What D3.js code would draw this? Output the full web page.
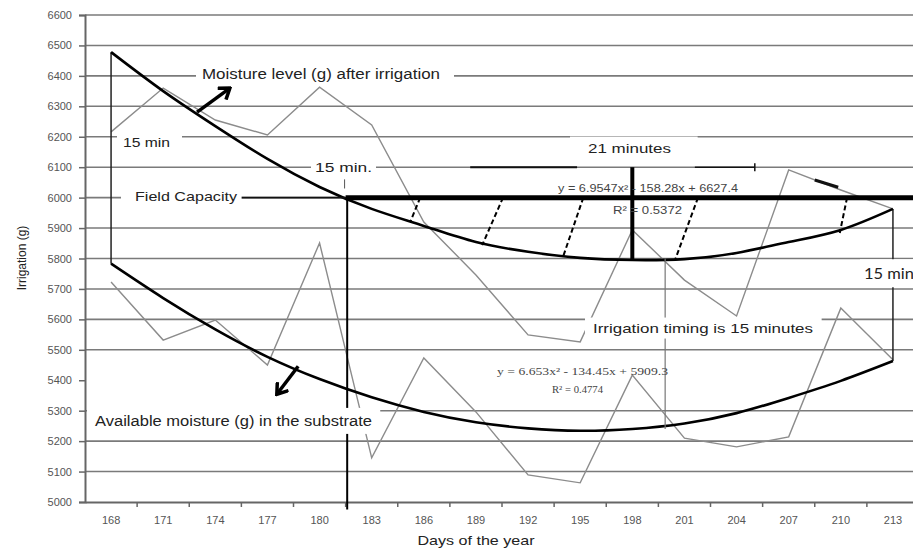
<!DOCTYPE html>
<html><head><meta charset="utf-8">
<script src="https://cdn.jsdelivr.net/npm/d3@7"></script>
<style>body{margin:0;background:#fff;} svg{display:block;font-family:"Liberation Sans",Arial,sans-serif;}</style>
</head><body><svg id="c" width="913" height="550"></svg>
<script>
// ---------- data ----------
const days = ["168","171","174","177","180","183","186","189","192","195","198","201","204","207","210","213"];
const yTicks = [5000,5100,5200,5300,5400,5500,5600,5700,5800,5900,6000,6100,6200,6300,6400,6500,6600];
const moistureAfterIrrigation = [6216,6360,6255,6206,6363,6239,5920,5746,5549,5526,5894,5729,5611,6091,6025,5963];
const availableMoisture      = [5723,5532,5598,5450,5851,5145,5473,5296,5089,5063,5417,5210,5181,5214,5637,5467];
const afterTrend     = [6478,6350,6235,6127,6035,5963,5907,5854,5822,5802,5795,5798,5818,5854,5894,5963];
const availableTrend = [5783,5670,5567,5477,5404,5344,5296,5262,5242,5234,5240,5258,5292,5342,5398,5463];
const fieldCapacity = 6000;
const hiddenGridValues = [5400];
// hand-drawn hatch lines: [x index top, value top, x index bottom, value bottom]
const hatchLines = [[5.93,6000,5.74,5920],[7.52,6000,7.12,5844],[9.06,6000,8.67,5805],[11.26,6000,10.82,5795],[14.12,6000,13.98,5884]];

// ---------- scales ----------
const svg = d3.select("#c");
const W = 913, H = 550;
const x = d3.scaleBand().domain(days).range([85, 919]).padding(0);
const y = d3.scaleLinear().domain([5000, 6600]).range([502, 15]);
const cx = i => x(days[0]) + x.bandwidth()/2 + x.step()*i;   // fractional index -> px
const X0 = 85;

svg.append("defs").append("marker").attr("id","arr").attr("viewBox","-12 -8 14 16")
  .attr("markerWidth",14).attr("markerHeight",16).attr("markerUnits","userSpaceOnUse").attr("orient","auto")
  .append("path").attr("d","M-10,-7 L0,0 L-10,7").attr("fill","none").attr("stroke","#000").attr("stroke-width",3.5);

// ---------- gridlines ----------
svg.append("g").selectAll("line").data(yTicks.filter(v => v > 5000 && !hiddenGridValues.includes(v)))
  .join("line").attr("x1", X0).attr("x2", W).attr("y1", d => y(d)).attr("y2", d => y(d))
  .attr("stroke", "#7a7a7a").attr("stroke-width", 1.6);

// ---------- axes ----------
const ya = d3.axisLeft(y).tickValues(yTicks).tickSize(6).tickPadding(7).tickFormat(d3.format("d"));
const gy = svg.append("g").attr("transform", `translate(${X0},0)`).call(ya);
gy.select(".domain").attr("stroke","#666").attr("stroke-width",2);
gy.selectAll(".tick line").attr("stroke","#666").attr("stroke-width",1.5);
gy.selectAll(".tick text").attr("fill","#555").attr("font-size",11);

const xa = d3.axisBottom(x).tickSize(0).tickPadding(14);
const gx = svg.append("g").attr("transform", `translate(0,${y(5000)})`).call(xa);
gx.select(".domain").attr("stroke","#666").attr("stroke-width",2);
gx.selectAll(".tick text").attr("fill","#555").attr("font-size",11);
gx.selectAll("line.bt").data(days.slice(1)).join("line").attr("class","bt")
  .attr("x1", d => x(d)).attr("x2", d => x(d)).attr("y1", 0).attr("y2", 5)
  .attr("stroke","#666").attr("stroke-width",1.5);

svg.append("text").attr("x", 476).attr("y", 545).attr("text-anchor","middle")
  .attr("font-size", 13).attr("fill","#222").attr("textLength",117).attr("lengthAdjust","spacingAndGlyphs").text("Days of the year");
svg.append("text").attr("transform","translate(26,258) rotate(-90)").attr("text-anchor","middle")
  .attr("font-size", 12).attr("fill","#222").text("Irrigation (g)");

// ---------- series ----------
const line = arr => d3.line().x((d,i) => cx(i)).y(d => y(d))(arr);
const curve = arr => d3.line().x((d,i) => cx(i)).y(d => y(d)).curve(d3.curveNatural)(arr);

svg.append("path").attr("d", line(moistureAfterIrrigation)).attr("fill","none").attr("stroke","#8c8c8c").attr("stroke-width",1.4);
svg.append("path").attr("d", line(availableMoisture)).attr("fill","none").attr("stroke","#8c8c8c").attr("stroke-width",1.4);

// connecting verticals at first and last day
[0, days.length-1].forEach(i => {
  svg.append("line").attr("x1", cx(i)).attr("x2", cx(i)).attr("y1", y(afterTrend[i])).attr("y2", y(availableTrend[i]))
    .attr("stroke","#222").attr("stroke-width",1.5);
});

svg.append("path").attr("d", curve(afterTrend)).attr("fill","none").attr("stroke","#000").attr("stroke-width",2.6);
svg.append("path").attr("d", curve(availableTrend)).attr("fill","none").attr("stroke","#000").attr("stroke-width",2.6);

// ---------- annotations ----------
svg.append("line").attr("x1", 240).attr("x2", cx(4.5)).attr("y1", y(fieldCapacity)).attr("y2", y(fieldCapacity))
  .attr("stroke","#111").attr("stroke-width",1.6);
svg.append("line").attr("x1", cx(4.5)).attr("x2", W).attr("y1", y(fieldCapacity)).attr("y2", y(fieldCapacity))
  .attr("stroke","#000").attr("stroke-width",5);
svg.append("line").attr("x1", cx(4.53)).attr("x2", cx(4.53)).attr("y1", y(fieldCapacity)).attr("y2", y(4975))
  .attr("stroke","#000").attr("stroke-width",2);
svg.append("line").attr("x1", cx(10)).attr("x2", cx(10)).attr("y1", y(6100)).attr("y2", y(afterTrend[10]))
  .attr("stroke","#000").attr("stroke-width",4);
svg.append("line").attr("x1", cx(10.63)).attr("x2", cx(10.63)).attr("y1", y(5800)).attr("y2", y(5240))
  .attr("stroke","#777").attr("stroke-width",1.2);
svg.append("line").attr("x1", cx(6.89)).attr("x2", cx(8.94)).attr("y1", y(6100)).attr("y2", y(6100)).attr("stroke","#111").attr("stroke-width",2);
svg.append("line").attr("x1", cx(11.2)).attr("x2", cx(12.35)).attr("y1", y(6100)).attr("y2", y(6100)).attr("stroke","#111").attr("stroke-width",1.5);
svg.append("line").attr("x1", cx(12.35)).attr("x2", cx(12.35)).attr("y1", y(6100)-4).attr("y2", y(6100)+4).attr("stroke","#111").attr("stroke-width",1.5);
svg.append("line").attr("x1", cx(13.5)).attr("x2", cx(13.95)).attr("y1", y(6058)).attr("y2", y(6034)).attr("stroke","#111").attr("stroke-width",3);
svg.append("line").attr("x1", cx(4.48)).attr("x2", cx(4.48)).attr("y1", y(6060)).attr("y2", y(6030)).attr("stroke","#555").attr("stroke-width",1);

svg.append("g").selectAll("line").data(hatchLines).join("line")
  .attr("x1", d => cx(d[0])).attr("y1", d => y(d[1])).attr("x2", d => cx(d[2])).attr("y2", d => y(d[3]))
  .attr("stroke","#000").attr("stroke-width",2).attr("stroke-dasharray","5,3");

svg.append("line").attr("x1", cx(1.65)).attr("y1", y(6281)).attr("x2", cx(2.28)).attr("y2", y(6360))
  .attr("stroke","#000").attr("stroke-width",3.5).attr("marker-end","url(#arr)");
svg.append("line").attr("x1", cx(3.59)).attr("y1", y(5446)).attr("x2", cx(3.18)).attr("y2", y(5354))
  .attr("stroke","#000").attr("stroke-width",3.5).attr("marker-end","url(#arr)");

// ---------- text labels with white backgrounds ----------
function label(t, px, py, size, width, opts = {}) {
  const g = svg.append("g");
  const r = g.append("rect").attr("fill","#fff");
  const tx = g.append("text").attr("x", px).attr("y", py).attr("dy","0.35em").attr("font-size", size)
    .attr("fill", opts.fill || "#222").attr("font-family", opts.family || null)
    .attr("textLength", width).attr("lengthAdjust","spacingAndGlyphs").text(t);
  const b = tx.node().getBBox();
  const pl = opts.pl ?? 4, pr = opts.pr ?? 6, pv = opts.pv ?? 3;
  if (opts.bg !== false)
    r.attr("x", b.x - pl).attr("y", b.y - pv).attr("width", b.width + pl + pr).attr("height", b.height + 2*pv);
  return g;
}
label("Moisture level (g) after irrigation", 202, 74, 14, 238, {pl:6, pr:14});
label("15 min", 123, 143, 12, 47, {pl:6, pr:12});
label("15 min.", 315, 168, 12, 57, {pl:4, pr:4});
label("Field Capacity", 135, 196, 13, 102, {pl:14, pr:4, pv:4});
label("21 minutes", 588, 148, 13, 83, {pl:18, pr:26, pv:4});
label("y = 6.9547x² - 158.28x + 6627.4", 558, 188, 10, 180, {bg:false, fill:"#444"});
label("R² = 0.5372", 613, 210, 11, 69, {bg:false, fill:"#444"});
label("15 min", 864, 274, 15, 50, {pl:4, pr:4, pv:5, family:"Lato, 'Open Sans', sans-serif"});
label("Irrigation timing is 15 minutes", 593, 328, 13, 220, {pl:8, pr:8, pv:3});
label("y = 6.653x² - 134.45x + 5909.3", 497, 371, 10, 171, {bg:false, fill:"#444", family:"'Liberation Serif', serif"});
label("R² = 0.4774", 552, 389, 10, 51, {bg:false, fill:"#444", family:"'Liberation Serif', serif"});
label("Available moisture (g) in the substrate", 95, 421, 14, 277, {pl:8, pr:8, pv:5});
</script></body></html>
